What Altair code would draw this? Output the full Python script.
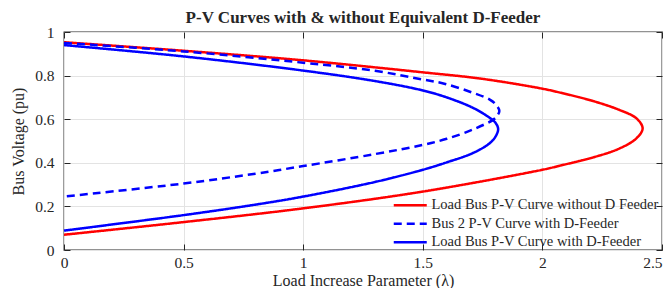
import altair as alt
import pandas as pd

# ---------------- data ----------------
series_names = [
    "Load Bus P-V Curve without D Feeder",
    "Bus 2 P-V Curve with D-Feeder",
    "Load Bus P-V Curve with D-Feeder",
]

red_lam = [0.0, 0.5, 1.0, 1.5, 1.75, 2.0, 2.074, 2.213, 2.323, 2.393, 2.419,
           2.393, 2.323, 2.213, 2.074, 2.0, 1.5, 1.0, 0.5, 0.0]
red_v = [0.953, 0.914, 0.870, 0.815, 0.785, 0.740, 0.722, 0.683, 0.642, 0.604, 0.558,
         0.512, 0.466, 0.425, 0.387, 0.368, 0.268, 0.191, 0.128, 0.070]

dash_lam = [0.0, 0.5, 1.0, 1.3, 1.5, 1.59, 1.71, 1.78, 1.805, 1.82, 1.81,
            1.795, 1.71, 1.6, 1.5, 1.3, 1.0, 0.8, 0.5, 0.0]
dash_v = [0.950, 0.911, 0.859, 0.822, 0.782, 0.763, 0.721, 0.690, 0.668, 0.638, 0.614,
          0.598, 0.553, 0.510, 0.482, 0.440, 0.385, 0.350, 0.305, 0.245]

blue_lam = [0.0, 0.5, 1.0, 1.3, 1.5, 1.6, 1.71, 1.78, 1.805, 1.815,
            1.805, 1.78, 1.71, 1.6, 1.5, 1.3, 1.0, 0.8, 0.5, 0.0]
blue_v = [0.940, 0.888, 0.823, 0.775, 0.732, 0.700, 0.652, 0.606, 0.582, 0.555,
          0.522, 0.490, 0.445, 0.402, 0.368, 0.312, 0.245, 0.208, 0.160, 0.089]

x_ticks = [0, 0.5, 1, 1.5, 2, 2.5]
y_ticks = [0, 0.2, 0.4, 0.6, 0.8, 1]

series_colors = ["#ff0000", "#0000ff", "#0000ff"]
series_dashes = [[1, 0], [8, 5], [1, 0]]

rows = []
for name, lams, vs in zip(series_names, [red_lam, dash_lam, blue_lam], [red_v, dash_v, blue_v]):
    for i, (l, v) in enumerate(zip(lams, vs)):
        rows.append({"series": name, "lam": l, "v": v, "idx": i})
df = pd.DataFrame(rows)

# ---------------- chart ----------------
FONT = "Liberation Serif"
TXT = "#262626"

xscale = alt.Scale(domain=[0, 2.5], nice=False, zero=False)
yscale = alt.Scale(domain=[0, 1], nice=False, zero=False)

legend = alt.Legend(
    orient="none", legendX=339, legendY=166, title=None,
    symbolType="M-3,0H3", symbolSize=121, symbolStrokeWidth=2.5,
    labelFont=FONT, labelFontSize=14.5, labelColor=TXT, labelOffset=14,
    rowPadding=3.5, padding=0, labelLimit=0,
)

lines = alt.Chart(df).mark_line(strokeWidth=2.5, interpolate="catmull-rom", strokeCap="butt").encode(
    x=alt.X("lam:Q", scale=xscale,
            axis=alt.Axis(values=x_ticks, format="~g", offset=-6, tickSize=6, domain=False,
                          grid=True, labelPadding=5, labelFont=FONT, labelFontSize=15.5,
                          labelFlush=False,
                          labelAlign={"condition": {"test": "datum.value >= 2.5", "value": "right"},
                                      "value": "center"},
                          title="Load Increase Parameter (λ)", titleFont=FONT, titlePadding=2)),
    y=alt.Y("v:Q", scale=yscale,
            axis=alt.Axis(values=y_ticks, format="~g", offset=-6, tickSize=6, domain=False,
                          grid=True, labelPadding=10, labelFont=FONT, labelFontSize=15.5,
                          labelFlush=False,
                          title="Bus Voltage (pu)", titleFont=FONT, titlePadding=8)),
    color=alt.Color("series:N", sort=series_names,
                    scale=alt.Scale(domain=series_names, range=series_colors), legend=legend),
    strokeDash=alt.StrokeDash("series:N", sort=series_names,
                              scale=alt.Scale(domain=series_names, range=series_dashes), legend=legend),
    order=alt.Order("idx:Q"),
)

frame = alt.Chart(df).mark_point(opacity=0).encode(
    x=alt.X("lam:Q", scale=xscale,
            axis=alt.Axis(orient="top", values=x_ticks, labels=False, offset=-6, tickSize=6,
                          domain=False, grid=False, title=None)),
    y=alt.Y("v:Q", scale=yscale,
            axis=alt.Axis(orient="right", values=y_ticks, labels=False, offset=-6, tickSize=6,
                          domain=False, grid=False, title=None)),
)

chart = (
    alt.layer(lines, frame)
    .resolve_axis(x="independent", y="independent")
    .properties(
        width=598, height=218,
        title=alt.Title("P-V Curves with & without Equivalent D-Feeder", font=FONT, fontSize=17,
                        fontWeight="bold", color=TXT, anchor="middle", offset=-2),
        padding={"left": 56, "top": 24, "right": 2, "bottom": 38},
        autosize=alt.AutoSizeParams(type="none"),
    )
    .configure_view(stroke=TXT, strokeWidth=1.3)
    .configure_axis(
        labelFont=FONT, labelFontSize=15.5, labelColor=TXT,
        titleFont=FONT, titleFontSize=16, titleFontWeight="normal", titleColor=TXT,
        tickColor=TXT, tickWidth=1, gridColor="#e3e3e3", gridWidth=1,
    )
)

chart.save("out.html", embed_options={"renderer": "svg", "actions": False})
